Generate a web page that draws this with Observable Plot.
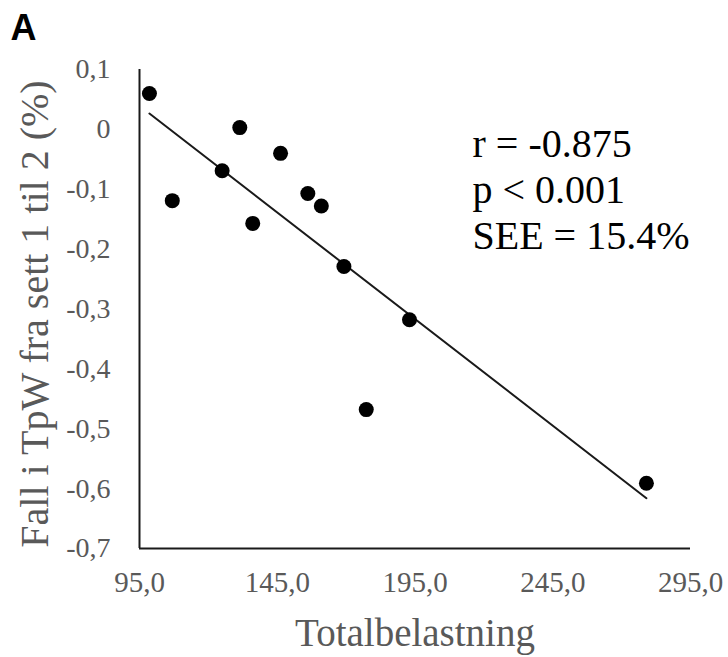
<!DOCTYPE html>
<html>
<head>
<meta charset="utf-8">
<script src="https://cdn.jsdelivr.net/npm/d3@7"></script>
<script src="https://cdn.jsdelivr.net/npm/@observablehq/plot@0.6"></script>
<style>
  html, body { margin: 0; padding: 0; background: #fff; }
</style>
</head>
<body>
<div id="chart"></div>
<script>
// Data
const totalLoad = [98.6, 106.9, 125.0, 131.4, 136.1, 146.2, 156.1, 161.0, 169.2, 177.3, 193.0, 279.0];
const dropTpW   = [0.060, -0.119, -0.069, 0.003, -0.157, -0.040, -0.107, -0.128, -0.229, -0.468, -0.318, -0.591];
const xTicks = [95, 145, 195, 245, 295];
const yTicks = [-0.7, -0.6, -0.5, -0.4, -0.3, -0.2, -0.1, 0, 0.1];
const panelLabel = "A";
const xTitle = "Totalbelastning";
const yTitle = "Fall i TpW fra sett 1 til 2 (%)";
const statsText = "r = -0.875\np < 0.001\nSEE = 15.4%";

const data = totalLoad.map((x, i) => ({x, y: dropTpW[i]}));
const serif = "'Liberation Serif', 'Times New Roman', serif";
const grey = "#595959";
const ink = "#1a1a1a";

const chart = Plot.plot({
  width: 728,
  height: 657,
  marginLeft: 139,
  marginRight: 38,
  marginTop: 69,
  marginBottom: 109,
  style: {background: "#fff", overflow: "visible"},
  x: {domain: [95, 295]},
  y: {domain: [-0.7, 0.1]},
  marks: [
    Plot.axisX({
      ticks: xTicks, tickSize: 0, tickPadding: 23,
      tickFormat: d => d.toFixed(1).replace(".", ","),
      fontSize: 29, fontFamily: serif, fill: grey, label: null
    }),
    Plot.axisY({
      ticks: yTicks, tickSize: 0, tickPadding: 29,
      tickFormat: d => Math.abs(d) < 1e-9 ? "0" : d.toFixed(1).replace(".", ","),
      fontSize: 28, fontFamily: serif, fill: grey, label: null
    }),
    Plot.ruleX([95], {stroke: ink, strokeWidth: 2}),
    Plot.ruleY([-0.7], {stroke: ink, strokeWidth: 2}),
    Plot.linearRegressionY(data, {x: "x", y: "y", ci: 0, stroke: ink, strokeWidth: 2}),
    Plot.dot(data, {x: "x", y: "y", r: 7.5, fill: "#000", stroke: "none"}),
    Plot.text([statsText], {
      text: d => d, frameAnchor: "top-left", textAnchor: "start", lineAnchor: "bottom",
      dx: 333, dy: 179, lineHeight: 1.14,
      fontSize: 40, fontFamily: serif, fill: "#000"
    }),
    Plot.text([xTitle], {
      text: d => d, frameAnchor: "bottom", textAnchor: "middle", lineAnchor: "bottom",
      dy: 97, fontSize: 39, fontFamily: serif, fill: grey
    }),
    Plot.text([yTitle], {
      text: d => d, frameAnchor: "left", textAnchor: "middle", rotate: -90, lineAnchor: "bottom",
      dx: -92, dy: 5, fontSize: 40, fontFamily: serif, fill: grey
    }),
    Plot.text([panelLabel], {
      text: d => d, frameAnchor: "top-left", textAnchor: "start", lineAnchor: "bottom",
      dx: -129, dy: -30, fontSize: 36, fontWeight: "bold",
      fontFamily: "'Liberation Sans', Arial, sans-serif", fill: "#000"
    })
  ]
});
// Force the serif face on the tick labels (the axis ignores fontFamily in this build)
const svg = d3.select(chart);
svg.selectAll('[aria-label^="x-axis"] text, [aria-label^="x-axis"]')
  .attr("font-family", serif).style("font-family", serif).style("font-size", "29px").style("font-variant", "normal");
svg.selectAll('[aria-label^="y-axis"] text, [aria-label^="y-axis"]')
  .attr("font-family", serif).style("font-family", serif).style("font-size", "28px").style("font-variant", "normal");
document.getElementById("chart").appendChild(chart);
</script>
</body>
</html>
